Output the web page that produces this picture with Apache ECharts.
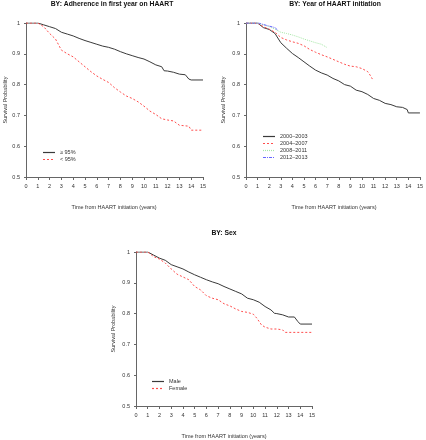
<!DOCTYPE html>
<html>
<head>
<meta charset="utf-8">
<script src="https://cdn.jsdelivr.net/npm/echarts@6/dist/echarts.min.js"></script>
<style>
html,body{margin:0;padding:0;background:#fff;}
#c{width:426px;height:440px;}
</style>
</head>
<body>
<div id="c"></div>
<script>
// ---- Data ----
const titles = ['BY: Adherence in first year on HAART', 'BY: Year of HAART initiation', 'BY: Sex'];
const xTickValues = [0,1,2,3,4,5,6,7,8,9,10,11,12,13,14,15];
const yTickValues = [0.5,0.6,0.7,0.8,0.9,1];

// Panel 1: adherence
const adhHighT = [0,1,1.5,2,2.5,3,3.5,4,4.5,5,5.5,6,6.5,7,7.5,8,8.5,9,9.5,10,10.5,11,11.5,11.7,12,12.5,13,13.5,13.8,14,15];
const adhHighS = [1,1,0.994,0.988,0.982,0.970,0.964,0.958,0.950,0.943,0.937,0.931,0.925,0.921,0.915,0.907,0.900,0.894,0.888,0.883,0.874,0.864,0.858,0.845,0.844,0.840,0.834,0.832,0.818,0.815,0.815];
const adhLowT = [0,1,1.5,2,2.5,3,3.5,4,4.5,5,5.5,6,6.5,7,7.5,8,8.5,9,9.5,10,10.5,11,11.5,12,12.5,13,13.8,14,15];
const adhLowS = [1,1,0.988,0.966,0.948,0.912,0.900,0.890,0.874,0.858,0.842,0.828,0.817,0.807,0.790,0.776,0.763,0.755,0.744,0.730,0.714,0.703,0.689,0.685,0.682,0.668,0.665,0.652,0.652];

// Panel 2: year of initiation
const y0003T = [0,1,1.5,2,2.5,3,3.5,4,4.5,5,5.5,6,6.5,7,7.5,8,8.5,9,9.5,10,10.5,11,11.5,12,12.5,13,13.5,13.9,14,15];
const y0003S = [1,1,0.985,0.979,0.966,0.936,0.918,0.901,0.888,0.874,0.860,0.847,0.838,0.831,0.820,0.812,0.800,0.795,0.782,0.777,0.768,0.755,0.749,0.739,0.735,0.728,0.726,0.719,0.708,0.708];
const y0407T = [0,1,1.5,2,2.5,3,3.5,4,4.5,5,5.5,6,6.5,7,7.5,8,8.5,9,9.5,10,10.5,10.7,10.9];
const y0407S = [1,1,0.988,0.980,0.970,0.953,0.945,0.939,0.934,0.926,0.914,0.905,0.897,0.890,0.882,0.874,0.866,0.860,0.858,0.852,0.842,0.831,0.818];
const y0811T = [0,1,1.5,2,2.5,3,3.5,4,4.5,5,5.5,6,6.5,7];
const y0811S = [1,1,0.994,0.988,0.980,0.970,0.966,0.961,0.955,0.948,0.942,0.936,0.931,0.920];
const y1213T = [0,1.1,1.5,2,2.5,2.7];
const y1213S = [1,1,0.995,0.990,0.985,0.978];

// Panel 3: sex
const maleT = [0,1,1.5,2,2.5,3,3.5,4,4.5,5,5.5,6,6.5,7,7.5,8,8.5,9,9.5,10,10.5,11,11.5,11.8,12,12.5,13,13.5,13.8,14,15];
const maleS = [1,1,0.990,0.980,0.973,0.959,0.952,0.945,0.935,0.926,0.918,0.910,0.903,0.897,0.888,0.880,0.872,0.864,0.850,0.845,0.837,0.823,0.812,0.801,0.800,0.796,0.789,0.789,0.774,0.766,0.766];
const femaleT = [0,1,1.5,2,2.5,3,3.5,4,4.5,5,5.5,6,6.5,7,7.5,8,8.5,9,9.5,10,10.3,10.7,11,11.5,12,12.5,12.7,13,15];
const femaleS = [1,1,0.985,0.977,0.964,0.945,0.928,0.919,0.910,0.888,0.877,0.858,0.850,0.845,0.832,0.825,0.815,0.807,0.804,0.798,0.785,0.763,0.756,0.750,0.750,0.747,0.739,0.739,0.739];

const legend1 = ['≥ 95%', '< 95%'];
const legend2 = ['2000–2003', '2004–2007', '2008–2011', '2012–2013'];
const legend3 = ['Male', 'Female'];

const zip = (t, s) => t.map((v, i) => [v, s[i]]);

// ---- Styles ----
const grids = [
  {left: 26, top: 23, width: 177, height: 154},
  {left: 246, top: 23, width: 176, height: 154},
  {left: 136, top: 252, width: 176, height: 154}
];
const FONT = 'Liberation Sans, Arial, sans-serif';
const labelColor = '#333';
const axisColor = '#666';
const ROW_H = 7;

function xAxisFor(i){
  return {
    gridIndex: i, type: 'value', min: 0, max: 15, interval: 1,
    axisLine: {show: true, onZero: false, lineStyle: {color: axisColor, width: 1}},
    axisTick: {show: true, length: 3, lineStyle: {color: axisColor}},
    axisLabel: {fontSize: 5.5, color: labelColor, margin: 6, fontFamily: FONT},
    splitLine: {show: false}
  };
}
function yAxisFor(i){
  return {
    gridIndex: i, type: 'value', min: 0.5, max: 1, interval: 0.1,
    axisLine: {show: true, lineStyle: {color: axisColor, width: 1}},
    axisTick: {show: true, length: 2, lineStyle: {color: axisColor}},
    axisLabel: {fontSize: 5.5, color: labelColor, margin: 6, fontFamily: FONT,
      formatter: v => String(+v.toFixed(1))},
    splitLine: {show: false}
  };
}
const styleOf = {};
function lineSeries(name, gi, t, s, color, dash){
  styleOf[name] = {color, dash};
  return {
    name, type: 'line', xAxisIndex: gi, yAxisIndex: gi,
    data: zip(t, s), showSymbol: false, symbol: 'none',
    color: color,
    lineStyle: {color, type: dash || 'solid', width: 1},
    itemStyle: {color},
    animation: false
  };
}

const series = [
  lineSeries(legend1[0], 0, adhHighT, adhHighS, '#3a3a3a', null),
  lineSeries(legend1[1], 0, adhLowT, adhLowS, '#ff4d4d', [2, 2]),
  lineSeries(legend2[0], 1, y0003T, y0003S, '#3a3a3a', null),
  lineSeries(legend2[1], 1, y0407T, y0407S, '#ff4d4d', [2, 2]),
  lineSeries(legend2[2], 1, y0811T, y0811S, '#a6e6a6', [1, 1]),
  lineSeries(legend2[3], 1, y1213T, y1213S, '#6666ff', [3, 1, 1, 1]),
  lineSeries(legend3[0], 2, maleT, maleS, '#3a3a3a', null),
  lineSeries(legend3[1], 2, femaleT, femaleS, '#ff4d4d', [2, 2])
];

const graphics = [];
function legendFor(id, names, left, top){
  names.forEach((n, k) => {
    const st = styleOf[n];
    const y = top + ROW_H * k + ROW_H / 2;
    graphics.push({type: 'line', silent: true, z: 100,
      shape: {x1: left, y1: y, x2: left + 12, y2: y},
      style: {stroke: st.color, lineWidth: 1.2, lineDash: st.dash || null, opacity: 1}});
  });
  return {
    id, show: true, orient: 'vertical', left, top, z: 1,
    data: names,
    icon: 'rect',
    itemWidth: 12, itemHeight: 1, itemGap: 0, itemTextGap: 5,
    itemStyle: {opacity: 0, borderWidth: 0},
    lineStyle: {opacity: 0},
    textStyle: {fontSize: 5.5, color: labelColor, fontFamily: FONT, lineHeight: ROW_H},
    padding: 0, selectedMode: false
  };
}

const legends = [
  legendFor('lg1', legend1, 43, 149),
  legendFor('lg2', legend2, 263, 133),
  legendFor('lg3', legend3, 152, 378)
];

const xName = 'Time from HAART initiation (years)';
const yName = 'Survival Probability';
const textCommon = {fontSize: 5.5, fill: labelColor, fontFamily: FONT};
const titleCommon = {fontSize: 6.8, fontWeight: 'bold', fill: '#111', fontFamily: FONT};
const titlePos = [[112, 4], [335, 4], [224, 233]];
const xNamePos = [[114, 207], [334, 207], [224, 436]];
const yNamePos = [[5, 100], [223, 100], [113, 329]];
for (let i = 0; i < 3; i++) {
  graphics.push({type: 'text', x: titlePos[i][0], y: titlePos[i][1],
    style: Object.assign({text: titles[i], align: 'center', verticalAlign: 'middle'}, titleCommon)});
  graphics.push({type: 'text', x: xNamePos[i][0], y: xNamePos[i][1],
    style: Object.assign({text: xName, align: 'center', verticalAlign: 'middle'}, textCommon)});
  graphics.push({type: 'text', x: yNamePos[i][0], y: yNamePos[i][1], rotation: Math.PI / 2,
    style: Object.assign({text: yName, align: 'center', verticalAlign: 'middle'}, textCommon)});
}

const chart = echarts.init(document.getElementById('c'), null, {renderer: 'canvas'});
chart.setOption({
  backgroundColor: '#fff',
  animation: false,
  grid: grids,
  xAxis: [xAxisFor(0), xAxisFor(1), xAxisFor(2)],
  yAxis: [yAxisFor(0), yAxisFor(1), yAxisFor(2)],
  legend: legends,
  series,
  graphic: graphics
});
</script>
</body>
</html>
